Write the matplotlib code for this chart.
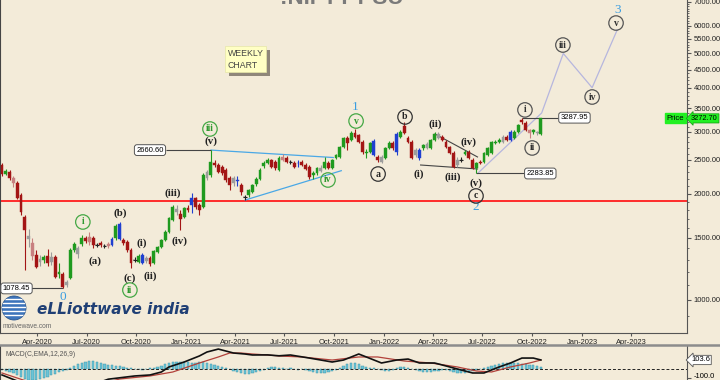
import numpy as np
import pandas as pd
import matplotlib
matplotlib.use("Agg")
import matplotlib.pyplot as plt
import matplotlib.transforms as mtrans
from matplotlib.patches import Rectangle, Circle
from matplotlib.lines import Line2D
from matplotlib.ticker import FixedLocator, NullFormatter

# weekly bars, first bar = week of 27-Jan-2020
start_week = pd.Timestamp("2020-01-27")

opens = [2414, 2277, 2307, 2219, 2147, 1985, 1719, 1519, 1451, 1341,
         1307, 1298, 1333, 1324, 1324, 1185, 1185, 1103, 1154, 1386,
         1404, 1441, 1499, 1509, 1499, 1432, 1451, 1423, 1441, 1432,
         1499, 1643, 1480, 1460, 1386, 1298, 1281, 1341, 1315, 1315,
         1273, 1368, 1414, 1480, 1559, 1686, 1811, 1753, 1719, 1823,
         1947, 1947, 1859, 1835, 2219, 2262, 2446, 2414, 2383, 2337,
         2219, 2219, 2189, 2119, 1960, 1985, 2025, 2133, 2204, 2399,
         2446, 2494, 2462, 2337, 2544, 2527, 2462, 2446, 2446, 2462,
         2414, 2383, 2262, 2292, 2368, 2368, 2446, 2368, 2527, 2544,
         2715, 2880, 2842, 2975, 2937, 2805, 2611, 2628, 2824, 2544,
         2544, 2527, 2698, 2787, 2628, 2899, 3114, 2880, 2805, 2663,
         2663, 2698, 2698, 2698, 2842, 2956, 2899, 2805, 2715, 2611,
         2494, 2494, 2594, 2628, 2494, 2368, 2462, 2462, 2577, 2611,
         2787, 2805, 2899, 2899, 2842, 2880, 2995, 3239, 3176, 3034,
         2995, 2995, 2956]
highs = [2446, 2352, 2337, 2248, 2175, 2011, 1742, 1590, 1499, 1386,
         1341, 1341, 1395, 1368, 1341, 1273, 1200, 1139, 1404, 1460,
         1423, 1529, 1519, 1559, 1519, 1451, 1470, 1441, 1460, 1509,
         1643, 1664, 1499, 1480, 1404, 1324, 1350, 1359, 1333, 1333,
         1386, 1423, 1489, 1579, 1719, 1859, 1859, 1800, 1835, 1859,
         2011, 1960, 1884, 2292, 2337, 2660.6, 2494, 2446, 2414, 2368,
         2248, 2248, 2248, 2147, 1985, 2065, 2133, 2233, 2368, 2478,
         2527, 2511, 2494, 2561, 2594, 2561, 2494, 2478, 2494, 2494,
         2446, 2414, 2322, 2383, 2414, 2544, 2478, 2511, 2594, 2733,
         2899, 2918, 3014, 3054, 2956, 2842, 2680, 2805, 2861, 2577,
         2577, 2715, 2824, 2824, 2995, 3034, 3197, 2918, 2842, 2698,
         2698, 2769, 2805, 2861, 2995, 2995, 2937, 2842, 2733, 2646,
         2544, 2544, 2663, 2663, 2527, 2462, 2494, 2628, 2715, 2824,
         2842, 2880, 2937, 2937, 3034, 3034, 3155, 3287.95, 3218, 3054,
         3054, 3014, 3281]
lows = [2248, 2262, 2189, 2092, 1934, 1742, 1216, 1414, 1298, 1232,
        1248, 1273, 1248, 1257, 1154, 1154, 1078.45, 1088, 1147, 1368,
        1315, 1423, 1451, 1432, 1404, 1414, 1414, 1404, 1404, 1423,
        1480, 1480, 1432, 1368, 1232, 1281, 1273, 1265, 1273, 1248,
        1265, 1359, 1404, 1470, 1549, 1675, 1742, 1579, 1708, 1776,
        1765, 1811, 1742, 1823, 2189, 2233, 2383, 2292, 2262, 2161,
        2051, 2106, 2106, 1985, 1921, 1960, 2011, 2106, 2189, 2368,
        2430, 2368, 2337, 2322, 2478, 2446, 2430, 2368, 2383, 2399,
        2337, 2204, 2204, 2262, 2307, 2352, 2352, 2352, 2511, 2527,
        2698, 2663, 2824, 2880, 2787, 2594, 2527, 2611, 2561, 2462,
        2446, 2511, 2680, 2663, 2577, 2880, 2956, 2787, 2511, 2544,
        2494, 2663, 2680, 2680, 2824, 2861, 2824, 2698, 2594, 2368,
        2383, 2462, 2577, 2511, 2352, 2283.85, 2430, 2446, 2561, 2594,
        2769, 2787, 2787, 2824, 2824, 2861, 2975, 3155, 3014, 2880,
        2956, 2937, 2937]
closes = [2277, 2322, 2219, 2147, 1947, 1776, 1579, 1489, 1333, 1240,
          1281, 1324, 1273, 1281, 1162, 1200, 1088, 1125, 1386, 1441,
          1350, 1499, 1470, 1460, 1432, 1428, 1432, 1421, 1423, 1489,
          1622, 1489, 1451, 1386, 1273, 1295, 1333, 1273, 1290, 1265,
          1377, 1414, 1480, 1559, 1708, 1835, 1776, 1697, 1823, 1800,
          1859, 1835, 1800, 2262, 2307, 2462, 2414, 2307, 2292, 2189,
          2119, 2147, 2175, 2025, 1965, 2051, 2119, 2204, 2337, 2446,
          2494, 2383, 2368, 2527, 2494, 2462, 2460, 2383, 2438, 2414,
          2352, 2233, 2292, 2368, 2322, 2462, 2368, 2494, 2577, 2715,
          2880, 2787, 2975, 2899, 2805, 2628, 2628, 2787, 2577, 2494,
          2462, 2698, 2787, 2698, 2956, 2995, 2975, 2805, 2527, 2577,
          2527, 2751, 2769, 2842, 2956, 2880, 2842, 2715, 2611, 2383,
          2414, 2490, 2628, 2527, 2368, 2446, 2446, 2611, 2698, 2805,
          2805, 2842, 2805, 2842, 2995, 2995, 3135, 3197, 3034, 2975,
          3034, 2975, 3272.70]

# bars drawn in special colours on the source chart
gray_bars = [7, 10, 13, 17, 20, 38, 46, 54, 61, 84, 100, 109, 112, 115, 120, 132, 141]
blue_bars = [29, 31, 37, 50, 62, 78, 98, 104, 110, 134]
pink_bars = [3, 8, 23, 28, 74, 139]
cross_bars = [25, 27, 35, 64, 76, 121]

# MACD(12,26,9)
macd_wk = [0, 4, 8, 12, 16, 20, 24, 28, 35, 39, 42, 44, 48, 52, 54, 57, 58, 61, 64, 66,
           70, 73, 76, 81, 87, 90, 94, 96, 100, 104, 107, 110, 114, 117, 121, 124, 127,
           131, 134, 137, 140, 142]
macd_val = [-63, -130, -230, -290, -300, -240, -170, -110, -74, -63, -30, 26, 81, 148, 192,
            225, 214, 181, 170, 159, 160, 150, 159, 125, 81, 103, 170, 137, 70, 103, 114,
            70, 70, 37, -8, -41, -41, 26, 70, 125, 125, 103.6]
signal_wk = [0, 4, 10, 20, 31, 39, 45, 52, 57, 60, 63, 66, 70, 73, 79, 87, 94, 99, 106,
             113, 120, 125, 129, 134, 139, 142]
signal_val = [-41, -97, -180, -230, -108, -74, -30, 70, 137, 181, 181, 170, 159, 148, 137,
              103, 137, 137, 92, 70, 26, -19, -30, 26, 70, 103]
hist_val = [-11, -22, -33, -44, -66,
            -88, -110, -121, -121, -121, -110,
            -99, -88, -66, -55, -33, -22, -11,
            11, 33, 55, 66, 77,
            88, 88, 77, 66, 55,
            44, 44, 33, 33, 22, 11, 11, 0,
            0, -11, 0, 11, 11,
            22, 33, 55, 66, 77, 77, 77,
            77, 77, 66, 66, 77, 77, 66, 55, 44,
            33, 22, 11, 0,
            -22, -33, -44, -55, -55, -44, -33, -22, -11,
            11, 22, 22, 11,
            11, 0, 11, 0, -11, 0, -11,
            -22, -33, -44, -44, -44, -33, -22, -11,
            11, 33, 55, 66, 66, 55, 33, 22,
            11, 11, 0,
            -11, -22, -22, -11,
            11, 22, 22, 11, 0,
            -11, -22, -33, -33, -33, -22, -22, -11,
            -11, -22, -33, -44, -44, -44, -33, -22, -11, 0,
            11, 22, 33, 44, 55, 66, 66, 66, 66, 66, 55, 55, 44, 44, 33, 22]

support_level = 1910
price_ticks = [1000, 1500, 2000, 2500, 3000, 3500, 4000, 4500, 5000, 5500, 6000, 7000]

# projected path (v)/2 low -> iii -> iv -> v
proj_wk = [125.3, 142.2, 147.9, 155.5, 162.1]
proj_px = [2283.85, 3390, 5000, 4000, 5830]

BG = "#f3ebd9"
SERIF = "Liberation Serif"
SANS = "Liberation Sans"


def fx(px):
    return px / 720.0


def fy(py):
    return 1 - py / 380.0


fig = plt.figure(figsize=(7.2, 3.8), dpi=100, facecolor=BG)
ax = fig.add_axes([0, fy(333), fx(687), 333 / 380])
ax.set_facecolor(BG)
ax.set_yscale("log")
ax.set_ylim(806, 7090)
XLIM = (-0.53, 180.5)
ax.set_xlim(*XLIM)

n = len(closes)
bx = np.arange(n)
o = np.array(opens, float)
c = np.array(closes, float)
cols = []
for i in range(n):
    if i in gray_bars:
        cols.append("#9c9c9c")
    elif i in blue_bars:
        cols.append("#1f3fd0")
    elif i in pink_bars:
        cols.append("#c88080")
    elif i in cross_bars:
        cols.append("#222222")
    elif c[i] >= o[i]:
        cols.append("#1f9a1f")
    else:
        cols.append("#a31515")

ax.vlines(bx, lows, highs, colors=cols, lw=0.8, zorder=3)
lo_b = np.minimum(o, c)
hi_b = np.maximum(o, c)
ax.bar(bx, hi_b - lo_b, bottom=lo_b, width=0.75, color=cols, edgecolor=cols, lw=0.3, zorder=4)
for i in cross_bars:
    ax.hlines(c[i], i - 0.45, i + 0.45, color=cols[i], lw=0.8, zorder=4)

# support line
ax.axhline(support_level, color="#ff2b2b", lw=1.4, zorder=2)

# trendlines
ax.plot([55.07, 87.3], [2660.6, 2535], color="#4aa8e6", lw=0.9, zorder=2)
ax.plot([64.1, 89.4], [1921, 2326], color="#4aa8e6", lw=0.9, zorder=2)
ax.plot([114.1, 125.3], [2956, 2544], color="#444444", lw=0.8, zorder=2)
ax.plot([110.3, 125.3], [2414, 2352], color="#444444", lw=0.8, zorder=2)
ax.plot(proj_wk, proj_px, color="#b6b6de", lw=0.9, zorder=2)

# price markers
tag = dict(boxstyle="round,pad=0.25,rounding_size=0.35", fc="white", ec="#555555", lw=0.7)
ax.hlines(2660.6, 43.2, 55, color="#444444", lw=0.8)
ax.text(42.6, 2660.6, "2660.60", ha="right", va="center", fontsize=5.5, family=SANS, bbox=tag, zorder=6)
ax.hlines(1078.45, 6.9, 16, color="#444444", lw=0.8)
ax.text(0.2, 1078.45, "1078.45", ha="left", va="center", fontsize=5.5, family=SANS, bbox=tag, zorder=6)
ax.hlines(2283.85, 125, 137.6, color="#444444", lw=0.8)
ax.text(138.2, 2283.85, "2283.85", ha="left", va="center", fontsize=5.5, family=SANS, bbox=tag, zorder=6)
ax.hlines(3287.95, 137, 146.6, color="#444444", lw=0.8)
ax.text(147.2, 3287.95, "3287.95", ha="left", va="center", fontsize=5.5, family=SANS, bbox=tag, zorder=6)

# wave labels
blue_nums = [("0", 16.1, 1020), ("1", 93.0, 3525), ("2", 124.9, 1835), ("3", 162.1, 6640)]
for t, w, p in blue_nums:
    ax.text(w, p, t, ha="center", va="center", fontsize=9.5, family=SERIF, color="#3a9de0", zorder=6)

green_circ = [("i", 21.3, 1664), ("ii", 33.7, 1067), ("iii", 54.8, 3054), ("iv", 85.9, 2189), ("v", 93.3, 3217)]
for t, w, p in green_circ:
    ax.text(w, p, t, ha="center", va="center", fontsize=7, family=SERIF, weight="bold", color="#2f9a2f",
            bbox=dict(boxstyle="circle,pad=0.28", fc="none", ec="#45a845", lw=0.9), zorder=6)

paren = [("(i)", 36.9, 1450), ("(ii)", 39.0, 1170), ("(iii)", 45.1, 2011), ("(iv)", 46.9, 1470),
         ("(v)", 55.1, 2824), ("(a)", 24.5, 1290), ("(b)", 31.1, 1765), ("(c)", 33.7, 1154),
         ("(i)", 109.9, 2276), ("(ii)", 114.1, 3155), ("(iii)", 118.8, 2232), ("(iv)", 122.8, 2805),
         ("(v)", 124.9, 2146)]
for t, w, p in paren:
    ax.text(w, p, t, ha="center", va="center", fontsize=7.8, family=SERIF, weight="bold", color="#222222", zorder=6)

black_circ = [("a", 99.1, 2276), ("b", 106.2, 3303), ("c", 124.9, 1972)]
for t, w, p in black_circ:
    ax.text(w, p, t, ha="center", va="center", fontsize=7, family=SERIF, weight="bold", color="#222222",
            bbox=dict(boxstyle="circle,pad=0.28", fc="none", ec="#333333", lw=0.9), zorder=6)

gray_circ = [("i", 137.8, 3459), ("ii", 139.7, 2698), ("iii", 147.8, 5284), ("iv", 155.5, 3763), ("v", 161.8, 6100)]
for t, w, p in gray_circ:
    ax.text(w, p, t, ha="center", va="center", fontsize=7, family=SERIF, weight="bold", color="#333333",
            bbox=dict(boxstyle="circle,pad=0.28", fc="none", ec="#555555", lw=0.9), zorder=6)

# axes styling
ax.spines["top"].set_visible(False)
ax.spines["left"].set_color("#444444")
ax.spines["right"].set_color("#555555")
ax.spines["bottom"].set_color("#555555")
ax.yaxis.tick_right()
ax.set_yticks(price_ticks)
ax.set_yticklabels([f"{v:.2f}" for v in price_ticks])
ax.yaxis.set_minor_locator(FixedLocator(list(range(900, 7100, 100))))
ax.yaxis.set_minor_formatter(NullFormatter())
ax.tick_params(axis="y", which="major", length=3, pad=2, labelsize=5.5, color="#555555", labelcolor="#222222")
ax.tick_params(axis="y", which="minor", length=1.5, color="#555555")
for lab in ax.get_yticklabels():
    lab.set_family(SANS)

tick_dates = pd.date_range("2020-04-01", "2023-04-01", freq="QS")
tick_pos = (tick_dates - start_week).days / 7
ax.set_xticks(tick_pos)
ax.set_xticklabels([d.strftime("%b-%Y") for d in tick_dates], fontsize=5.4, family=SANS, color="#222222")
ax.tick_params(axis="x", length=2.5, pad=1.5, color="#555555")

# live price tag
bt = mtrans.blended_transform_factory(ax.transAxes, ax.transData)
ax.text(0.996, closes[-1], "Price", transform=bt, ha="right", va="center", fontsize=5.5, family=SANS,
        bbox=dict(boxstyle="square,pad=0.2", fc="#22f022", ec="#22f022"), zorder=7)
ax.text(1.006, closes[-1], f"{closes[-1]:.2f}", transform=bt, ha="left", va="center", fontsize=5.3, family=SANS,
        bbox=dict(boxstyle="larrow,pad=0.15", fc="#22f022", ec="#119911", lw=0.5), zorder=7, clip_on=False)

# MACD panel
mx = fig.add_axes([0, 0, fx(687), 34 / 380])
mx.set_facecolor(BG)
mx.set_xlim(*XLIM)
mx.set_ylim(-119, 259)
mx.bar(bx, hist_val, width=0.6, color="#6cc4d6", edgecolor="#3f98ad", lw=0.35, zorder=2)
mx.axhline(0, color="#222222", lw=0.7, ls=(0, (3, 2)), zorder=3)
mx.plot(signal_wk, signal_val, color="#b2413a", lw=0.9, zorder=4)
mx.plot(macd_wk, macd_val, color="#111111", lw=1.2, zorder=5)
mx.set_xticks([])
mx.spines["top"].set_visible(False)
mx.spines["bottom"].set_visible(False)
mx.spines["left"].set_color("#444444")
mx.spines["right"].set_color("#555555")
mx.yaxis.tick_right()
mx.set_yticks([-100])
mx.set_yticklabels(["-100.0"])
mx.tick_params(axis="y", length=3, pad=2, labelsize=5.5, color="#555555")
nudge = mtrans.ScaledTranslation(0, 2 / 72, fig.dpi_scale_trans)
for lab in mx.get_yticklabels():
    lab.set_family(SANS)
    lab.set_transform(lab.get_transform() + nudge)
bt2 = mtrans.blended_transform_factory(mx.transAxes, mx.transData)
mx.text(1.006, macd_val[-1], f"{macd_val[-1]:.1f}", transform=bt2, ha="left", va="center", fontsize=5.5,
        family=SANS, bbox=dict(boxstyle="larrow,pad=0.15", fc="white", ec="#555555", lw=0.6), zorder=7, clip_on=False)
fig.text(fx(5), fy(354), "MACD(C,EMA,12,26,9)", fontsize=4.9, family=SANS, color="#555555", va="center")

# separator between panels
fig.add_artist(Line2D([0, 1], [fy(345), fy(345)], transform=fig.transFigure, color="#8c8c8c", lw=1.8))

# title (cut off at top, as on the source)
fig.text(fx(342), fy(3.8), ":NIFTY PSU", ha="center", va="baseline", fontsize=16, weight="bold",
         family=SANS, color="#7a7a7a")

# weekly chart note
fig.add_artist(Rectangle((fx(229), fy(76)), fx(41), 26 / 380, transform=fig.transFigure, fc="#8f877a", ec="none"))
fig.add_artist(Rectangle((fx(225), fy(72)), fx(41), 26 / 380, transform=fig.transFigure, fc="#ffffc4", ec="#e6e6a8", lw=0.5))
fig.text(fx(228), fy(54), "WEEKLY", fontsize=6.3, family=SANS, color="#444444", va="center")
fig.text(fx(228), fy(65), "CHART", fontsize=6.3, family=SANS, color="#444444", va="center")

# logo
ident = mtrans.IdentityTransform()
globe = Circle((14, 380 - 308), 12, transform=ident, fc="#3d74bb", ec="#2a568f", lw=0.6)
fig.add_artist(globe)
for dy in [-7, -3, 1, 5, 9]:
    ln = Line2D([0, 30], [380 - 308 + dy, 380 - 308 + dy], transform=ident, color="white", lw=1.0)
    ln.set_clip_path(globe)
    fig.add_artist(ln)
fig.text(fx(37), fy(309), "eLLiottwave india", fontsize=11, weight="bold", style="italic",
         color="#1f3f75", va="center")
fig.text(fx(3), fy(326), "motivewave.com", fontsize=4.8, family=SANS, color="#666666", va="center")

fig.savefig("out.png", dpi=100, facecolor=BG)
